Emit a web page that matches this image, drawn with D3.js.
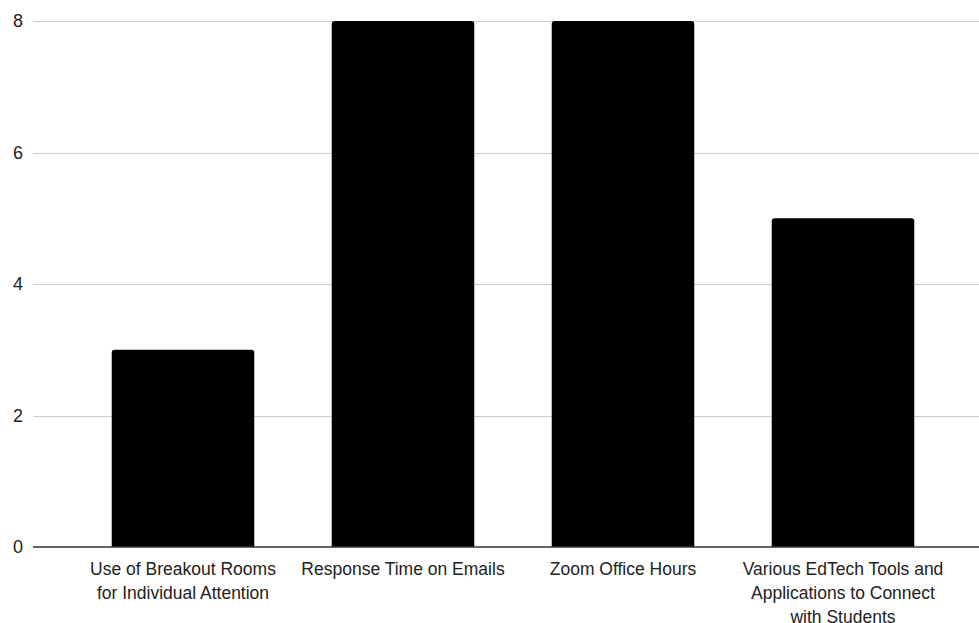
<!DOCTYPE html>
<html>
  <head>
    <meta charset="UTF-8" />
    <title>Bar chart</title>
    <style>
      body,
      html {
        margin: 0;
        padding: 0;
        background: #fff;
        overflow: hidden;
      }
      text {
        font-family: "Liberation Sans", Arial, sans-serif;
        fill: #222;
      }
    </style>
  </head>
  <body>
    <svg id="chart"></svg>
    <script src="https://cdn.jsdelivr.net/npm/d3@7"></script>
    <script>
      const categories = [
        "Use of Breakout Rooms for Individual Attention",
        "Response Time on Emails",
        "Zoom Office Hours",
        "Various EdTech Tools and Applications to Connect with Students",
      ];
      // tick label lines as wrapped in the original
      const labelLines = [
        ["Use of Breakout Rooms", "for Individual Attention"],
        ["Response Time on Emails"],
        ["Zoom Office Hours"],
        ["Various EdTech Tools and", "Applications to Connect", "with Students"],
      ];
      const values = [3, 8, 8, 5];
      const yTicks = [0, 2, 4, 6, 8];

      const width = 979;
      const height = 623;

      const svg = d3.select("#chart").attr("width", width).attr("height", height);

      const x = d3
        .scaleBand()
        .domain(categories)
        .range([73, 953])
        .paddingInner(0.352)
        .paddingOuter(0.176);

      const y = d3.scaleLinear().domain([0, 8]).range([547, 21]);

      // gridlines
      svg
        .selectAll(".grid")
        .data(yTicks.filter((d) => d !== 0))
        .enter()
        .append("line")
        .attr("x1", 33)
        .attr("x2", width)
        .attr("y1", (d) => Math.round(y(d)) + 0.5)
        .attr("y2", (d) => Math.round(y(d)) + 0.5)
        .attr("stroke", "#cccccc")
        .attr("stroke-width", 1);

      // y labels
      svg
        .selectAll(".ylab")
        .data(yTicks)
        .enter()
        .append("text")
        .attr("x", 23)
        .attr("y", (d) => y(d))
        .attr("dy", "0.36em")
        .attr("text-anchor", "end")
        .style("font-size", "18px")
        .text((d) => d);

      // bars with rounded top corners
      const r = 3;
      svg
        .selectAll(".bar")
        .data(values)
        .enter()
        .append("path")
        .attr("fill", "#000")
        .attr("d", (d, i) => {
          const x0 = x(categories[i]);
          const x1 = x0 + x.bandwidth();
          const y0 = y(0);
          const y1 = y(d);
          return `M${x0},${y0}V${y1 + r}Q${x0},${y1} ${x0 + r},${y1}H${x1 - r}Q${x1},${y1} ${x1},${y1 + r}V${y0}Z`;
        });

      // baseline
      svg
        .append("line")
        .attr("x1", 33)
        .attr("x2", width)
        .attr("y1", y(0))
        .attr("y2", y(0))
        .attr("stroke", "#333")
        .attr("stroke-width", 1.3);

      // x labels
      categories.forEach((c, i) => {
        const cx = x(c) + x.bandwidth() / 2;
        const t = svg
          .append("text")
          .attr("text-anchor", "middle")
          .style("font-size", "17.5px")
          .attr("x", cx)
          .attr("y", 575);
        labelLines[i].forEach((ln, j) => {
          t.append("tspan")
            .attr("x", cx)
            .attr("dy", j === 0 ? 0 : 24)
            .text(ln);
        });
      });
    </script>
  </body>
</html>
